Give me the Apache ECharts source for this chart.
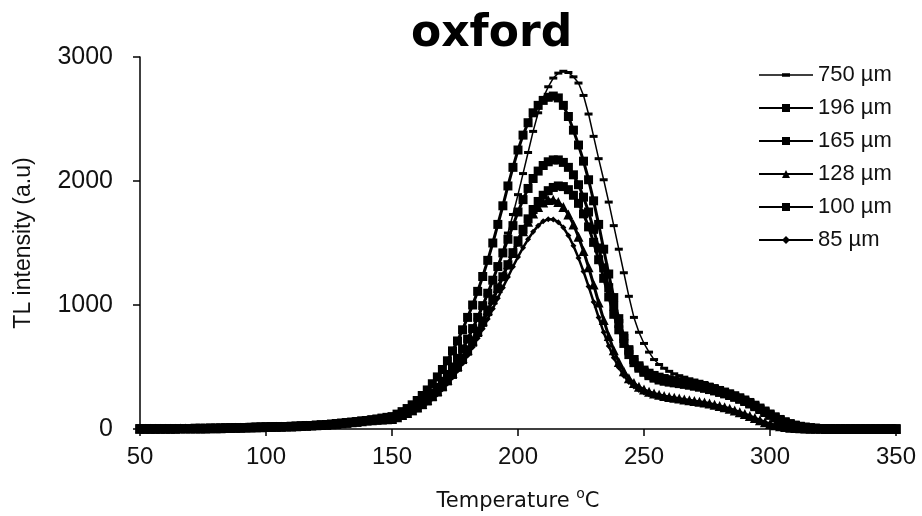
<!DOCTYPE html>
<html>
<head>
<meta charset="utf-8">
<script src="https://cdn.jsdelivr.net/npm/echarts@6/dist/echarts.min.js"></script>
<style>
  html, body { margin: 0; padding: 0; background: #fff; }
  #chart { width: 922px; height: 516px; }
</style>
</head>
<body>
<div id="chart"></div>
<script>
// temperature (oC), one reading every 2 degrees
const temps = [
  50, 52, 54, 56, 58, 60, 62, 64, 66, 68,
  70, 72, 74, 76, 78, 80, 82, 84, 86, 88,
  90, 92, 94, 96, 98, 100, 102, 104, 106, 108,
  110, 112, 114, 116, 118, 120, 122, 124, 126, 128,
  130, 132, 134, 136, 138, 140, 142, 144, 146, 148,
  150, 152, 154, 156, 158, 160, 162, 164, 166, 168,
  170, 172, 174, 176, 178, 180, 182, 184, 186, 188,
  190, 192, 194, 196, 198, 200, 202, 204, 206, 208,
  210, 212, 214, 216, 218, 220, 222, 224, 226, 228,
  230, 232, 234, 236, 238, 240, 242, 244, 246, 248,
  250, 252, 254, 256, 258, 260, 262, 264, 266, 268,
  270, 272, 274, 276, 278, 280, 282, 284, 286, 288,
  290, 292, 294, 296, 298, 300, 302, 304, 306, 308,
  310, 312, 314, 316, 318, 320, 322, 324, 326, 328,
  330, 332, 334, 336, 338, 340, 342, 344, 346, 348,
  350
];

// TL intensity (a.u) per grain size
const tl750 = [
  2, 2, 2, 2, 3, 3, 3, 3, 4, 4,
  4, 5, 5, 5, 6, 6, 7, 8, 9, 10,
  11, 12, 13, 14, 15, 16, 17, 18, 19, 20,
  21, 22, 24, 26, 28, 30, 32, 35, 38, 42,
  46, 50, 54, 58, 63, 68, 74, 80, 86, 90,
  95, 110, 127, 146, 168, 193, 222, 255, 292, 334,
  382, 436, 496, 562, 634, 712, 796, 886, 982, 1084,
  1194, 1312, 1440, 1580, 1730, 1890, 2060, 2230, 2400, 2550,
  2670, 2760, 2830, 2870, 2885, 2875, 2840, 2790, 2690, 2540,
  2360, 2180, 2010, 1830, 1640, 1450, 1260, 1070, 900, 780,
  690, 620, 560, 520, 490, 465, 445, 430, 418, 405,
  395, 385, 375, 362, 350, 335, 320, 305, 288, 270,
  250, 228, 205, 180, 155, 130, 105, 83, 63, 47,
  34, 24, 16, 11, 7, 5, 3, 2, 2, 1,
  1, 1, 1, 1, 1, 1, 1, 1, 1, 1,
  1
];
const tl196 = [
  2, 2, 2, 2, 3, 3, 3, 3, 4, 4,
  4, 5, 5, 5, 6, 6, 7, 8, 9, 10,
  11, 12, 13, 14, 15, 16, 17, 18, 19, 20,
  21, 22, 24, 26, 28, 30, 32, 35, 38, 42,
  46, 50, 54, 58, 63, 68, 74, 81, 88, 94,
  100, 120, 140, 165, 195, 230, 270, 315, 365, 420,
  480, 550, 630, 710, 800, 900, 1000, 1110, 1230, 1360,
  1500, 1650, 1800, 1960, 2110, 2250, 2370, 2470, 2550, 2610,
  2650, 2675, 2685, 2670, 2610, 2520, 2410, 2290, 2160, 2010,
  1840, 1650, 1450, 1250, 1060, 890, 750, 640, 560, 500,
  460, 430, 410, 395, 385, 378, 372, 366, 360, 353,
  345, 337, 328, 318, 307, 295, 283, 270, 256, 240,
  222, 202, 180, 157, 133, 110, 88, 68, 50, 36,
  25, 17, 11, 7, 5, 3, 2, 2, 1, 1,
  1, 1, 1, 1, 1, 1, 1, 1, 1, 1,
  1
];
const tl165 = [
  2, 2, 2, 2, 3, 3, 3, 3, 4, 4,
  4, 5, 5, 5, 6, 6, 7, 8, 9, 10,
  11, 12, 13, 14, 15, 16, 17, 18, 19, 20,
  21, 22, 24, 26, 28, 30, 32, 35, 38, 42,
  46, 50, 54, 58, 63, 68, 72, 76, 80, 83,
  85, 100, 118, 138, 160, 185, 215, 250, 290, 335,
  385, 440, 500, 570, 645, 725, 810, 900, 995, 1095,
  1200, 1310, 1420, 1530, 1640, 1750, 1850, 1940, 2020, 2080,
  2125, 2155, 2170, 2170, 2150, 2110, 2050, 1970, 1870, 1750,
  1610, 1460, 1300, 1140, 990, 850, 730, 630, 560, 510,
  475, 450, 432, 418, 407, 398, 390, 382, 375, 368,
  360, 352, 343, 333, 322, 310, 297, 283, 268, 252,
  234, 214, 192, 169, 145, 121, 98, 77, 58, 43,
  31, 22, 15, 10, 6, 4, 3, 2, 1, 1,
  1, 1, 1, 1, 1, 1, 1, 1, 1, 1,
  1
];
const tl128 = [
  2, 2, 2, 2, 3, 3, 3, 3, 4, 4,
  4, 5, 5, 5, 6, 6, 7, 8, 9, 10,
  11, 12, 13, 14, 15, 16, 17, 18, 19, 20,
  21, 22, 24, 26, 28, 30, 32, 35, 38, 42,
  46, 50, 54, 58, 63, 68, 71, 74, 77, 79,
  80, 95, 112, 130, 151, 175, 202, 233, 268, 307,
  350, 398, 451, 509, 572, 640, 713, 791, 873, 959,
  1048, 1140, 1233, 1327, 1420, 1510, 1595, 1672, 1738, 1791,
  1827, 1847, 1848, 1830, 1790, 1730, 1650, 1550, 1435, 1305,
  1165, 1020, 880, 750, 635, 540, 465, 410, 370, 340,
  318, 300, 287, 276, 267, 259, 252, 245, 238, 232,
  226, 220, 213, 205, 196, 186, 175, 163, 150, 136,
  121, 105, 88, 71, 55, 41, 30, 22, 16, 11,
  8, 6, 4, 3, 2, 2, 1, 1, 1, 1,
  1, 1, 1, 1, 1, 1, 1, 1, 1, 1,
  1
];
const tl100 = [
  2, 2, 2, 2, 3, 3, 3, 3, 4, 4,
  4, 5, 5, 5, 6, 6, 7, 8, 9, 10,
  11, 12, 13, 14, 15, 16, 17, 18, 19, 20,
  21, 22, 24, 26, 28, 30, 32, 35, 38, 42,
  46, 50, 54, 58, 63, 68, 71, 74, 77, 79,
  80, 95, 110, 128, 148, 170, 196, 226, 260, 298,
  340, 388, 440, 498, 560, 628, 700, 778, 860, 947,
  1038, 1132, 1228, 1325, 1422, 1518, 1610, 1695, 1770, 1835,
  1885, 1922, 1948, 1960, 1955, 1930, 1885, 1820, 1735, 1630,
  1505, 1365, 1215, 1065, 925, 800, 690, 600, 535, 490,
  458, 435, 418, 405, 395, 387, 380, 373, 366, 359,
  351, 343, 334, 324, 313, 301, 288, 274, 259, 243,
  225, 205, 184, 162, 139, 116, 94, 73, 55, 41,
  29, 20, 14, 9, 6, 4, 2, 2, 1, 1,
  1, 1, 1, 1, 1, 1, 1, 1, 1, 1,
  1
];
const tl85 = [
  2, 2, 2, 2, 3, 3, 3, 3, 4, 4,
  4, 5, 5, 5, 6, 6, 7, 8, 9, 10,
  11, 12, 13, 14, 15, 16, 17, 18, 19, 20,
  21, 22, 24, 26, 28, 30, 32, 35, 38, 42,
  46, 50, 54, 58, 62, 65, 68, 70, 72, 74,
  75, 88, 103, 120, 139, 160, 185, 213, 245, 281,
  321, 366, 416, 470, 529, 592, 660, 732, 808, 888,
  970, 1055, 1140, 1225, 1308, 1388, 1462, 1530, 1590, 1640,
  1675, 1692, 1690, 1668, 1625, 1560, 1478, 1380, 1270, 1150,
  1025, 900, 780, 670, 575, 495, 430, 380, 343, 315,
  295, 280, 268, 258, 250, 243, 237, 231, 225, 219,
  213, 207, 200, 193, 185, 176, 166, 155, 143, 130,
  116, 100, 84, 68, 53, 40, 30, 22, 16, 11,
  8, 6, 4, 3, 2, 2, 1, 1, 1, 1,
  1, 1, 1, 1, 1, 1, 1, 1, 1, 1,
  1
];

const names = ['750 µm', '196 µm', '165 µm', '128 µm', '100 µm', '85 µm'];
const values = [tl750, tl196, tl165, tl128, tl100, tl85];

// marker look for each series, same order as names
const looks = [
  {symbol: 'rect', size: [8, 3], width: 1.5},
  {symbol: 'rect', size: 9, width: 3},
  {symbol: 'rect', size: 9, width: 3},
  {symbol: 'triangle', size: 10, width: 3},
  {symbol: 'rect', size: 9, width: 3},
  {symbol: 'diamond', size: 6, width: 2.5}
];

const series = names.map((name, i) => ({
  name: name,
  type: 'line',
  data: temps.map((t, k) => [t, values[i][k]]),
  symbol: looks[i].symbol,
  symbolSize: looks[i].size,
  showAllSymbol: true,
  clip: false,
  lineStyle: {color: '#000', width: looks[i].width},
  itemStyle: {color: '#000', borderWidth: 0},
  z: 10 - i
}));

// 750 µm legend key: thin line with a small dash in the middle
const legendItems = names.map((name, i) => i === 0
  ? {name: name, icon: 'path://M0 1H54V2.6H0Z M23 0H31V3.6H23Z'}
  : {name: name});

const chart = echarts.init(document.getElementById('chart'));
chart.setOption({
  animation: false,
  backgroundColor: '#fff',
  title: {
    text: 'oxford',
    left: 406,
    top: 8,
    textStyle: {fontFamily: 'DejaVu Sans', fontWeight: 'bold', fontSize: 44, color: '#000'}
  },
  legend: {
    orient: 'vertical',
    left: 758,
    top: 64,
    padding: 0,
    itemWidth: 54,
    itemHeight: 10,
    itemGap: 11,
    textStyle: {fontFamily: 'Liberation Sans', fontSize: 22, color: '#111'},
    data: legendItems
  },
  grid: {left: 140, right: 26, top: 57, bottom: 87, outerBoundsMode: 'none'},
  xAxis: {
    type: 'value',
    min: 50,
    max: 350,
    interval: 50,
    name: '{t|Temperature }{sup|o}{t|C}',
    nameLocation: 'middle',
    nameGap: 58,
    nameTextStyle: {
      rich: {
        t: {fontFamily: 'DejaVu Sans', fontSize: 21, color: '#111', lineHeight: 30},
        sup: {fontFamily: 'DejaVu Sans', fontSize: 14, color: '#111', lineHeight: 16, verticalAlign: 'top'}
      }
    },
    axisLine: {lineStyle: {color: '#000', width: 1.5}},
    axisTick: {show: true, inside: false, length: 7, lineStyle: {color: '#000', width: 1.5}},
    axisLabel: {margin: 16, fontFamily: 'Liberation Sans', fontSize: 24, color: '#111'},
    splitLine: {show: false}
  },
  yAxis: {
    type: 'value',
    min: 0,
    max: 3000,
    interval: 1000,
    name: 'TL intensity (a.u)',
    nameLocation: 'middle',
    nameGap: 105,
    nameTextStyle: {fontFamily: 'Liberation Sans', fontSize: 23, color: '#111'},
    axisLine: {show: true, lineStyle: {color: '#000', width: 1.5}},
    axisTick: {show: true, length: 7, lineStyle: {color: '#000', width: 1.5}},
    axisLabel: {
      margin: 27, fontFamily: 'Liberation Sans', fontSize: 25, color: '#111',
      formatter: (v) => String(v)
    },
    splitLine: {show: false}
  },
  series: series
});
</script>
</body>
</html>
